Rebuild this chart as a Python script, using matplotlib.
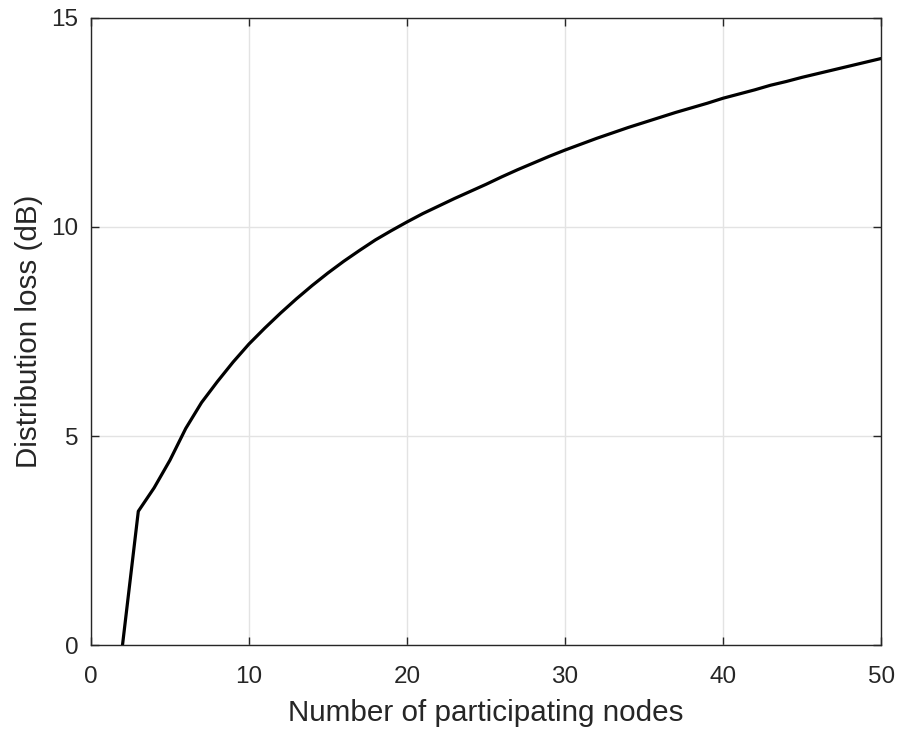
import matplotlib
matplotlib.use("Agg")
import matplotlib.pyplot as plt

nodes = list(range(2, 51))
loss_db = [0.0, 3.2, 3.76, 4.42, 5.18, 5.8, 6.3, 6.77, 7.2,
           7.58, 7.94, 8.28, 8.6, 8.9, 9.18, 9.44, 9.69, 9.91, 10.12,
           10.32, 10.5, 10.68, 10.85, 11.02, 11.2, 11.37, 11.53, 11.69, 11.84,
           11.98, 12.12, 12.25, 12.38, 12.5, 12.62, 12.74, 12.85, 12.96, 13.08,
           13.18, 13.28, 13.39, 13.48, 13.58, 13.67, 13.76, 13.85, 13.94, 14.03]

xticks = [0, 10, 20, 30, 40, 50]
yticks = [0, 5, 10, 15]

plt.rcParams['font.family'] = ['Liberation Sans', 'DejaVu Sans']
fig = plt.figure(figsize=(9, 7.33), dpi=100)
ax = fig.add_axes([0.101, 0.12, 0.878, 0.8555])
ax.plot(nodes, loss_db, color='black', linewidth=2.3)
ax.set_xlim(0, 50)
ax.set_ylim(0, 15)
ax.set_xticks(xticks)
ax.set_yticks(yticks)
ax.grid(True, color='#e3e3e3', linewidth=1.0)
ax.set_axisbelow(True)
for s in ax.spines.values():
    s.set_color('#262626')
    s.set_linewidth(1.0)
ax.tick_params(direction='in', top=True, right=True, length=6, width=1.0,
               colors='#262626', labelsize=17.5)
ax.tick_params(axis='x', pad=15)
ax.tick_params(axis='y', pad=9)
ax.set_xlabel('Number of participating nodes', fontsize=21.3, color='#262626', labelpad=8)
ax.set_ylabel('Distribution loss (dB)', fontsize=21.3, color='#262626', labelpad=6)
fig.savefig('out.png', dpi=100)
